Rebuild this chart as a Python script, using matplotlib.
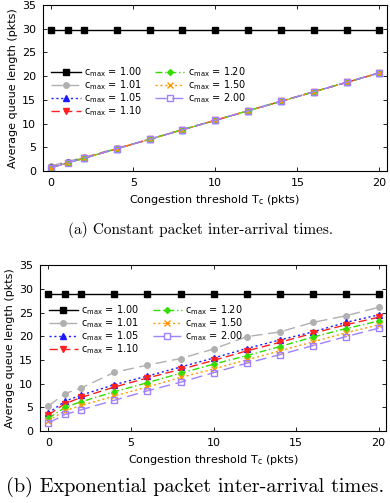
import matplotlib
matplotlib.use("Agg")
import matplotlib.pyplot as plt

# congestion threshold values (pkts)
tc = [0, 1, 2, 4, 6, 8, 10, 12, 14, 16, 18, 20]
cmax_labels = ["1.00", "1.01", "1.05", "1.10", "1.20", "1.50", "2.00"]

# (a) constant inter-arrival times
const_100 = [29.7] * 12
const_101 = [1.1, 2.0, 2.9, 4.8, 6.7, 8.7, 10.7, 12.7, 14.7, 16.7, 18.7, 20.7]
const_105 = [0.8, 1.8, 2.7, 4.7, 6.7, 8.7, 10.7, 12.7, 14.7, 16.7, 18.7, 20.7]
const_110 = [0.7, 1.7, 2.7, 4.7, 6.7, 8.7, 10.7, 12.7, 14.7, 16.7, 18.7, 20.7]
const_120 = [0.7, 1.7, 2.7, 4.7, 6.7, 8.7, 10.7, 12.7, 14.7, 16.7, 18.7, 20.7]
const_150 = [0.7, 1.7, 2.7, 4.7, 6.7, 8.7, 10.7, 12.7, 14.7, 16.7, 18.7, 20.7]
const_200 = [0.7, 1.7, 2.7, 4.7, 6.7, 8.7, 10.7, 12.7, 14.7, 16.7, 18.7, 20.7]

# (b) exponential inter-arrival times
exp_100 = [28.9] * 12
exp_101 = [5.3, 7.9, 9.1, 12.4, 13.9, 15.3, 17.3, 19.9, 20.9, 22.9, 24.3, 26.1]
exp_105 = [3.8, 6.3, 7.6, 9.8, 11.6, 13.5, 15.4, 17.4, 19.2, 20.9, 22.9, 24.5]
exp_110 = [3.4, 5.8, 7.1, 9.3, 11.2, 13.0, 14.9, 16.9, 18.7, 20.6, 22.4, 24.0]
exp_120 = [2.7, 5.0, 6.2, 8.3, 10.2, 12.2, 14.1, 15.9, 17.8, 19.8, 21.6, 23.2]
exp_150 = [2.2, 4.3, 5.4, 7.4, 9.3, 11.3, 13.1, 15.0, 16.9, 18.8, 20.7, 22.4]
exp_200 = [1.7, 3.5, 4.5, 6.5, 8.5, 10.3, 12.3, 14.3, 16.1, 18.0, 19.9, 21.7]

styles = [
    dict(color="black", ls="-", marker="s", mfc="black"),
    dict(color="#b0b0b0", ls=(0, (8, 4)), marker="o", mfc="#b0b0b0"),
    dict(color="#1a1aff", ls=(0, (1.5, 2)), marker="^", mfc="#1a1aff"),
    dict(color="#ff2020", ls=(0, (6, 3)), marker="v", mfc="#ff2020"),
    dict(color="#33dd00", ls=(0, (5, 2, 1, 2)), marker="D", mfc="#33dd00"),
    dict(color="#ff9900", ls=(0, (1.5, 2)), marker="x", mfc="#ff9900"),
    dict(color="#9f80ff", ls=(0, (8, 4)), marker="s", mfc="none"),
]

plt.rcParams["font.family"] = "DejaVu Sans"
plt.rcParams["font.size"] = 8

fig = plt.figure(figsize=(3.9, 5.03), dpi=100)
ax_a = fig.add_axes([0.110, 0.660, 0.882, 0.330])
ax_b = fig.add_axes([0.103, 0.143, 0.887, 0.330])

panels = [
    (ax_a, [const_100, const_101, const_105, const_110, const_120, const_150, const_200], 0.635),
    (ax_b, [exp_100, exp_101, exp_105, exp_110, exp_120, exp_150, exp_200], 0.768),
]

for ax, series, leg_y in panels:
    for lab, ys, st in zip(cmax_labels, series, styles):
        ms = 4 if st["marker"] != "D" else 3
        ax.plot(tc, ys, color=st["color"], ls=st["ls"], lw=1.0,
                marker=st["marker"], mfc=st["mfc"], mec=st["color"], ms=ms,
                mew=1.0, label=r"$\mathregular{c_{max}}$ = " + lab)
    ax.set_xlim(-0.5, 20.45)
    ax.set_ylim(0, 35)
    ax.set_xticks([0, 5, 10, 15, 20])
    ax.set_yticks(range(0, 36, 5))
    ax.tick_params(direction="in", length=3, width=0.6, top=True, right=True, pad=5)
    for sp in ax.spines.values():
        sp.set_linewidth(0.8)
    ax.set_xlabel(r"Congestion threshold $\mathregular{T_c}$ (pkts)", labelpad=3.5)
    ax.set_ylabel("Average queue length (pkts)", labelpad=3)
    ax.legend(ncol=2, loc="upper left", bbox_to_anchor=(0.025, leg_y), frameon=False,
              handlelength=3.0, handletextpad=0.35, columnspacing=1.35,
              labelspacing=-0.1, fontsize=7, borderaxespad=0, borderpad=0)

fig.text(0.514, 0.543, "(a) Constant packet inter-arrival times.", ha="center",
         va="center", family="cmr10", fontsize=11)
fig.text(0.5, 0.032, "(b) Exponential packet inter-arrival times.", ha="center",
         va="center", family="cmr10", fontsize=14.6)

fig.savefig("out.png", dpi=100)
